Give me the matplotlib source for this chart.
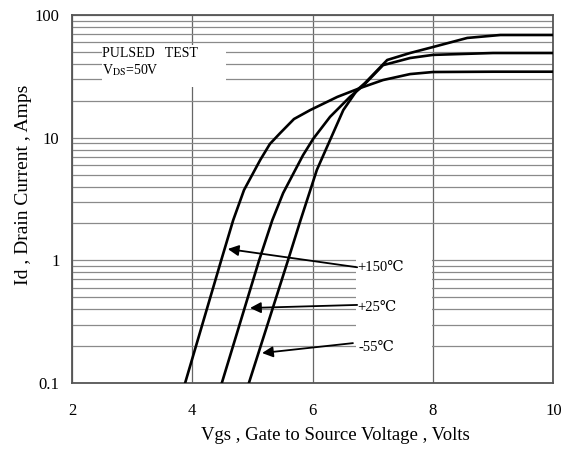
import matplotlib
matplotlib.use("Agg")
import matplotlib.pyplot as plt
from matplotlib.patches import Rectangle
from matplotlib.ticker import FixedLocator, NullFormatter, LogLocator

#--------------------------------------------------------------------#
# Data (Id vs Vgs, pulsed test)

vgs_150 = [3.88, 4.48, 4.68, 4.86, 5.13, 5.29, 5.46, 5.69, 5.96, 6.41, 6.79,
           7.17, 7.62, 8.0, 9.0, 10.0]
id_150 = [0.1, 1.0, 2.13, 3.75, 6.6, 8.9, 10.9, 14.2, 16.8, 21.5, 25.4,
          29.5, 33.0, 34.3, 34.5, 34.5]

vgs_25 = [4.49, 5.11, 5.33, 5.51, 5.84, 6.01, 6.29, 6.62, 6.84, 7.17, 7.62,
          8.0, 9.0, 10.0]
id_25 = [0.1, 1.0, 2.13, 3.54, 7.2, 9.8, 14.8, 21.5, 26.5, 39.0, 44.6,
         47.3, 49.0, 49.0]

vgs_m55 = [4.94, 5.59, 5.79, 6.07, 6.29, 6.51, 6.74, 6.87, 7.24, 7.62, 8.0,
           8.57, 9.12, 10.0]
id_m55 = [0.1, 1.0, 2.06, 5.46, 9.58, 16.8, 24.5, 27.9, 43.0, 49.0, 54.8,
          65.0, 68.7, 68.7]

x_ticks = [2, 4, 6, 8, 10]
x_tick_labels = ["2", "4", "6", "8", "10"]
y_ticks = [0.1, 1, 10, 100]
y_tick_labels = ["0.1", "1", "10", "100"]

temp_labels = ["+150\u2103", "+25\u2103", "-55\u2103"]

SERIF = ["Liberation Serif", "DejaVu Serif", "Noto Sans CJK SC"]

#--------------------------------------------------------------------#

def make_axes():
    plt.rcParams["font.family"] = SERIF
    plt.rcParams["mathtext.fontset"] = "stix"

    fig = plt.figure(figsize=(5.71, 4.54), dpi=100)
    ax = fig.add_axes([0.126, 0.156, 0.843, 0.811])

    ax.set_yscale("log")
    ax.set_xlim(2, 10)
    ax.set_ylim(0.1, 100)

    ax.xaxis.set_major_locator(FixedLocator(x_ticks))
    ax.set_xticklabels(x_tick_labels)
    ax.yaxis.set_major_locator(FixedLocator(y_ticks))
    ax.set_yticklabels(y_tick_labels)
    ax.yaxis.set_minor_locator(LogLocator(base=10, subs=range(2, 10)))
    ax.yaxis.set_minor_formatter(NullFormatter())

    ax.tick_params(which="both", length=0)
    ax.tick_params(axis="x", pad=14, labelsize=12)
    ax.tick_params(axis="y", pad=9, labelsize=12)

    # grid: vertical only at major x, horizontal on every log step
    ax.set_axisbelow(True)
    ax.grid(True, axis="x", which="major", color="#666666", lw=0.9)
    ax.grid(True, axis="y", which="both", color="#8a8a8a", lw=0.9)

    for s in ax.spines.values():
        s.set_color("#555555")
        s.set_linewidth(1.3)

    ax.set_xlabel("Vgs , Gate to Source Voltage , Volts", fontsize=13.5)
    ax.set_ylabel("Id , Drain Current , Amps", fontsize=14)
    ax.xaxis.set_label_coords(0.547, -0.118)
    ax.yaxis.set_label_coords(-0.082, 0.538)
    return fig, ax

#--------------------------------------------------------------------#

def draw_notes(ax):
    # white boxes that hide the grid behind the texts
    ax.add_patch(Rectangle((2.5, 25.9), 2.06, 31.1, facecolor="white",
                           edgecolor="none", zorder=1))
    ax.add_patch(Rectangle((6.72, 0.1), 1.26, 1.5, facecolor="white",
                           edgecolor="none", zorder=1))

    ax.text(2.5, 49, "PULSED   TEST", fontsize=10, va="center", ha="left", zorder=4)
    ax.text(2.5, 35.6, r"V$_{\rm DS}$=50V", fontsize=10, va="center", ha="left", zorder=4)

    arrow = dict(arrowstyle="-|>", lw=1.3, color="black", mutation_scale=16,
                 shrinkA=0, shrinkB=0)
    ax.annotate("", xy=(4.59, 1.24), xytext=(6.74, 0.88), arrowprops=arrow, zorder=4)
    ax.annotate("", xy=(4.96, 0.41), xytext=(6.74, 0.434), arrowprops=arrow, zorder=4)
    ax.annotate("", xy=(5.16, 0.176), xytext=(6.67, 0.212), arrowprops=arrow, zorder=4)

    ax.text(6.75, 0.88, temp_labels[0], fontsize=10.5, va="center", ha="left", zorder=4)
    ax.text(6.75, 0.414, temp_labels[1], fontsize=10.5, va="center", ha="left", zorder=4)
    ax.text(6.77, 0.197, temp_labels[2], fontsize=10.5, va="center", ha="left", zorder=4)

#--------------------------------------------------------------------#

def show_graph():
    fig, ax = make_axes()

    ax.plot(vgs_150, id_150, color="black", lw=1.9, zorder=3)
    ax.plot(vgs_25, id_25, color="black", lw=1.9, zorder=3)
    ax.plot(vgs_m55, id_m55, color="black", lw=1.9, zorder=3)

    draw_notes(ax)

    fig.savefig("out.png", dpi=100)

#--------------------------------------------------------------------#

show_graph()
